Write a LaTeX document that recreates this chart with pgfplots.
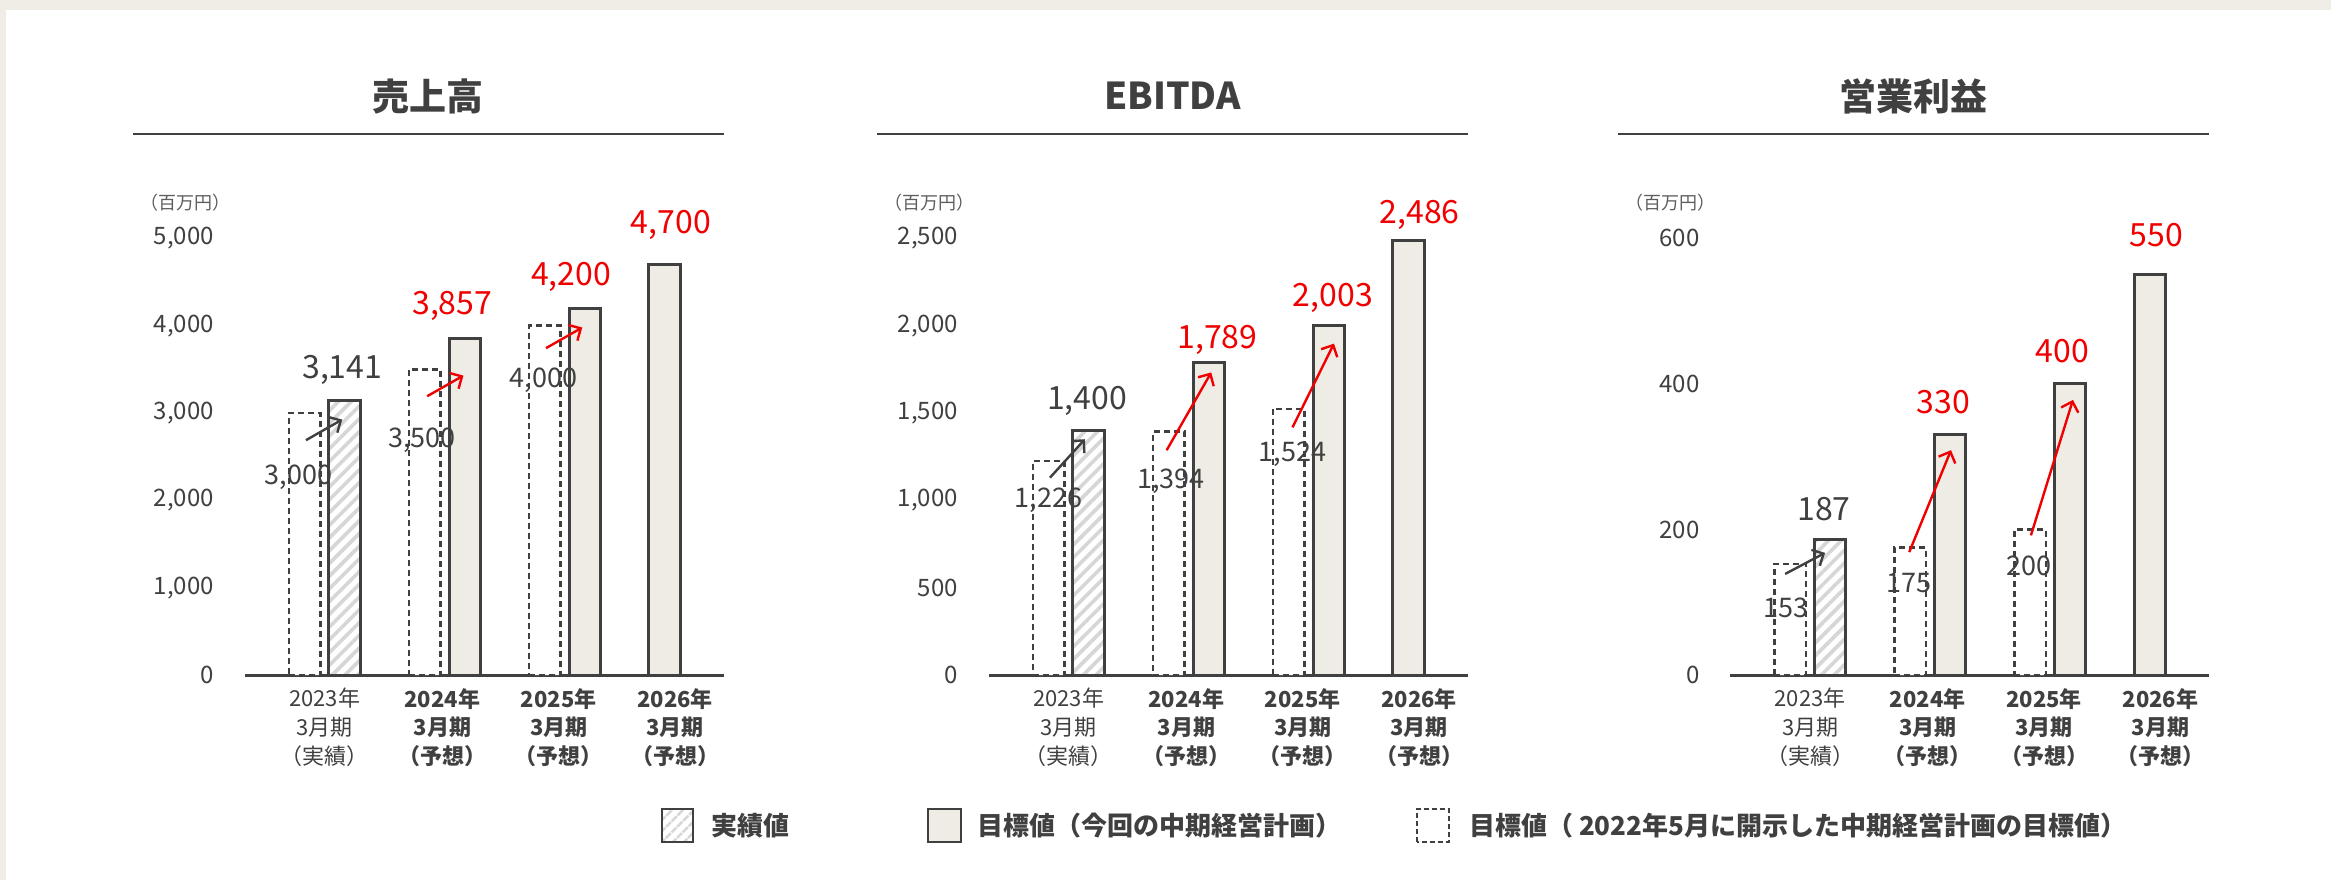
\documentclass[border=0pt]{standalone}
\usepackage{pgfplots}
\pgfplotsset{compat=1.18}
\usepackage{fontspec}
\setmainfont{Noto Sans CJK JP}
\usetikzlibrary{arrows.meta,patterns.meta}

\definecolor{txt}{HTML}{404040}
\definecolor{beigebar}{HTML}{EFECE5}
\definecolor{frame}{HTML}{F0EDE6}
\definecolor{hatch}{HTML}{D6D6D6}
\definecolor{redc}{HTML}{F00000}

\pgfplotsset{
  kpi/.style={
    scale only axis, width=239.5pt, height=218.5pt,
    anchor=south west, clip=false,
    xmin=-0.664, xmax=3.327, ymin=0,
    axis x line=bottom, axis y line=left,
    x axis line style={-, draw=txt, line width=1.6pt},
    y axis line style={draw=none},
    tick style={draw=none}, major tick length=0pt,
    xtick={0,0.98,1.95,2.92},
    xticklabels={{2023年\\3月期\\（実績）},
      {\textbf{2024年}\\\textbf{3月期}\\\textbf{（予想）}},
      {\textbf{2025年}\\\textbf{3月期}\\\textbf{（予想）}},
      {\textbf{2026年}\\\textbf{3月期}\\\textbf{（予想）}}},
    xticklabel style={align=center, font=\fontsize{11}{14.3}\selectfont, text=txt, yshift=-3pt},
    yticklabel style={font=\fontsize{12}{14}\selectfont, text=txt, xshift=-12pt},
  },
  dashbar/.style={ybar, bar shift=0pt, bar width=0.2625, draw=txt, fill=white,
    line width=1.25pt, dash pattern=on 3pt off 2pt},
  actbar/.style={ybar, bar shift=0pt, bar width=0.2625, draw=txt, line width=1.5pt,
    pattern={Lines[angle=45,distance=4.5pt,line width=1.8pt]}, pattern color=hatch},
  planbar/.style={ybar, bar shift=0pt, bar width=0.2625, draw=txt, fill=beigebar, line width=1.5pt},
}
\tikzset{
  big/.style={font=\fontsize{16}{18}\selectfont, text=txt},
  bigred/.style={font=\fontsize{16}{18}\selectfont, text=redc},
  small/.style={font=\fontsize{13.5}{15}\selectfont, text=txt},
  arrdark/.style={draw=txt, line width=1.2pt, -{Straight Barb[length=4.5pt,width=9pt]}},
  arrred/.style={draw=redc, line width=1.2pt, -{Straight Barb[length=4.5pt,width=9pt]}},
  leg/.style={anchor=west, font=\fontsize{13}{15}\selectfont\bfseries, text=txt},
}
\newcommand\decor[1]{%
  \draw[txt, line width=1.15pt] (rel axis cs:-0.2338,1.239) -- (rel axis cs:1,1.239);
  \node[font=\fontsize{18.5}{20}\selectfont\bfseries, text=txt] at (rel axis cs:0.383,1.325) {#1};
  \node[font=\fontsize{9}{10}\selectfont, text=txt!85] at (rel axis cs:-0.125,1.082) {（百万円）};
}

\begin{document}
\begin{tikzpicture}
\useasboundingbox (0,0) rectangle (1165.5pt,440pt);
\fill[white] (0,0) rectangle (1165.5pt,440pt);
\fill[frame] (0,435pt) rectangle (1165.5pt,440pt);
\fill[frame] (0,0) rectangle (3pt,440pt);

% 売上高
\begin{axis}[kpi, at={(122.5pt,102.4pt)}, ymax=5000,
  ytick={0,1000,2000,3000,4000,5000},
  yticklabels={0,{1,000},{2,000},{3,000},{4,000},{5,000}}]
\addplot[dashbar] coordinates {(-0.167,3000) (0.833,3500) (1.833,4000)};
\addplot[actbar] coordinates {(0.167,3141)};
\addplot[planbar] coordinates {(1.167,3857) (2.167,4200) (2.833,4700)};
\decor{売上高}
\node[big] at (axis cs:0.146,3491) {3,141};
\node[small] at (axis cs:-0.219,2264) {3,000};
\node[bigred] at (axis cs:1.0625,4230) {3,857};
\node[small] at (axis cs:0.8125,2689) {3,500};
\node[bigred] at (axis cs:2.052,4560) {4,200};
\node[small] at (axis cs:1.823,3380) {4,000};
\node[bigred] at (axis cs:2.885,5157) {4,700};
\draw[arrdark] (axis cs:-0.156,2689) -- (axis cs:0.146,2925);
\draw[arrred] (axis cs:0.854,3192) -- (axis cs:1.156,3428);
\draw[arrred] (axis cs:1.844,3742) -- (axis cs:2.146,3978);
\end{axis}

% EBITDA
\begin{axis}[kpi, at={(494.5pt,102.4pt)}, ymax=2500,
  ytick={0,500,1000,1500,2000,2500},
  yticklabels={0,500,{1,000},{1,500},{2,000},{2,500}}]
\addplot[dashbar] coordinates {(-0.167,1226) (0.833,1394) (1.833,1524)};
\addplot[actbar] coordinates {(0.167,1400)};
\addplot[planbar] coordinates {(1.167,1789) (2.167,2003) (2.833,2486)};
\decor{EBITDA}
\node[big] at (axis cs:0.153,1570) {1,400};
\node[small] at (axis cs:-0.167,998) {1,226};
\node[bigred] at (axis cs:1.24,1916) {1,789};
\node[small] at (axis cs:0.851,1108) {1,394};
\node[bigred] at (axis cs:2.201,2157) {2,003};
\node[small] at (axis cs:1.865,1266) {1,524};
\node[bigred] at (axis cs:2.924,2636) {2,486};
\draw[arrdark] (axis cs:-0.156,1130) -- (axis cs:0.135,1350);
\draw[arrred] (axis cs:0.816,1287) -- (axis cs:1.1875,1732);
\draw[arrred] (axis cs:1.865,1418) -- (axis cs:2.21,1897);
\end{axis}

% 営業利益
\begin{axis}[kpi, at={(865.2pt,102.4pt)}, ymax=600,
  ytick={0,200,400,600},
  yticklabels={0,200,400,600}]
\addplot[dashbar] coordinates {(-0.167,153) (0.833,175) (1.833,200)};
\addplot[actbar] coordinates {(0.167,187)};
\addplot[planbar] coordinates {(1.167,330) (2.167,400) (2.833,550)};
\decor{営業利益}
\node[big] at (axis cs:0.115,228) {187};
\node[small] at (axis cs:-0.198,92) {153};
\node[bigred] at (axis cs:1.111,375) {330};
\node[small] at (axis cs:0.82,126) {175};
\node[bigred] at (axis cs:2.10,445) {400};
\node[small] at (axis cs:1.826,150) {200};
\node[bigred] at (axis cs:2.885,604) {550};
\draw[arrdark] (axis cs:-0.208,139) -- (axis cs:0.125,168);
\draw[arrred] (axis cs:0.826,169) -- (axis cs:1.174,309);
\draw[arrred] (axis cs:1.84,192) -- (axis cs:2.19,378);
\end{axis}

% legend
\draw[txt, line width=1.2pt, pattern={Lines[angle=45,distance=4pt,line width=1.4pt]}, pattern color=hatch]
  (331pt,19pt) rectangle (346.5pt,35.5pt);
\node[leg] at (352pt,27pt) {実績値};
\draw[txt, line width=1.4pt, fill=beigebar] (464pt,19pt) rectangle (480.5pt,35.5pt);
\node[leg] at (485pt,27pt) {目標値（今回の中期経営計画）};
\draw[txt, line width=1.2pt, dash pattern=on 2.5pt off 1.5pt] (708.5pt,19pt) rectangle (724.5pt,35.5pt);
\node[leg] at (731pt,27pt) {目標値（ 2022年5月に開示した中期経営計画の目標値）};
\end{tikzpicture}
\end{document}
